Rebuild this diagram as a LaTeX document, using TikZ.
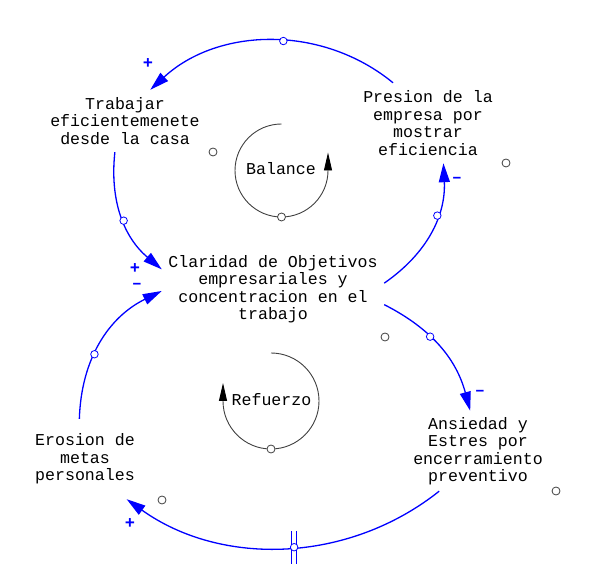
\documentclass[tikz,border=0pt]{standalone}
\usepackage{fontspec}
\setmonofont{Liberation Mono}
\usepackage{tikz}
\usetikzlibrary{arrows.meta}
\definecolor{vblue}{HTML}{0000FF}
\definecolor{vgray}{HTML}{404040}

\begin{document}
\begin{tikzpicture}[
      x=1pt, y=1pt,
      every node/.style={font=\ttfamily\fontsize{16.6}{17.5}\selectfont},
      var/.style={inner sep=0pt, align=center},
      link/.style={draw=vblue, line width=1.3pt, -{Triangle[length=19pt, width=11pt]}},
      fbloop/.style={draw=vgray, line width=0.9pt, -{Triangle[length=18pt, width=8pt, black]}},
      hnd/.style={circle, draw=vblue, fill=white, line width=0.8pt, inner sep=0pt, minimum size=7.5pt},
      grip/.style={circle, draw=vgray, fill=white, line width=0.8pt, inner sep=0pt, minimum size=8pt},
      pol/.style={text=vblue, inner sep=0pt, font=\ttfamily\bfseries\fontsize{17}{17}\selectfont,
                  text height=10pt, text depth=0pt}
  ]
    \useasboundingbox (0,0) rectangle (596,583);

    % --- Variables ---
    \node[var, minimum width=160pt, minimum height=62pt] (trabajar) at (125,462)
          {Trabajar\\eficientemenete\\desde la casa};
    \node[var, minimum width=140pt, minimum height=80pt] (presion) at (428,460)
          {Presion de la\\empresa por\\mostrar\\eficiencia};
    \node[var, minimum width=222pt, minimum height=74pt] (claridad) at (273,294)
          {Claridad de Objetivos\\empresariales y\\concentracion en el\\trabajo};
    \node[var, minimum width=140pt, minimum height=80pt] (ansiedad) at (478,132)
          {Ansiedad y\\Estres por\\encerramiento\\preventivo};
    \node[var, minimum width=120pt, minimum height=80pt] (erosion) at (85,124)
          {Erosion de\\metas\\personales};

    % --- Causal links ---
    \draw[link] (presion.131) to[bend right=41, looseness=0.97]
          node[pos=0.45, hnd] (h1) {} (trabajar.51);
    \draw[link] (trabajar.-108) to[bend right=28]
          node[pos=0.53, hnd] (h2) {} (claridad.170);
    \draw[link] (erosion.98) to[bend left=31]
          node[pos=0.41, hnd] (h3) {} (claridad.181);
    \draw[link] (claridad.3) to[bend right=29]
          node[pos=0.63, hnd] (h4) {} (presion.-69);
    \draw[link] (claridad.-8) to[bend left=24]
          node[pos=0.39, hnd] (h5) {} (ansiedad.101);
    \draw[link] (ansiedad.-134) to[bend left=37, looseness=0.95]
          coordinate[pos=0.47] (dly) (erosion.-44);

    % delay mark
    \draw[vblue, line width=1pt] ([xshift=-2.5pt, yshift=-16.5pt]dly) -- ++(0,33);
    \draw[vblue, line width=1pt] ([xshift=2.5pt, yshift=-16.5pt]dly) -- ++(0,33);
    \node[hnd] (h6) at (dly) {};

    % polarities
    \node[pol] (p1) at (148,519) {+};
    \node[pol] (p2) at (135,314) {+};
    \node[pol] (m3) at (137,299) {–};
    \node[pol] (m4) at (457,405) {–};
    \node[pol] (m5) at (480,192) {–};
    \node[pol] (p6) at (130,60) {+};

    % --- Loops ---
    \draw[fbloop] (281.5,459) arc[start angle=90, end angle=360, radius=46.5] -- ++(0,18);
    \node (balance) at (281,414) {Balance};
    \node[grip] (gb) at (281.5,366) {};

    \draw[fbloop] (271,230) arc[start angle=90, end angle=-180, radius=48] -- ++(0,18);
    \node (refuerzo) at (271.5,183) {Refuerzo};
    \node[grip] (gr) at (271,134) {};

    % loose handles
    \node[grip] (g1) at (213,431) {};
    \node[grip] (g2) at (506,420) {};
    \node[grip] (g3) at (385,246) {};
    \node[grip] (g4) at (162,83) {};
    \node[grip] (g5) at (556,92) {};

  \end{tikzpicture}
\end{document}
